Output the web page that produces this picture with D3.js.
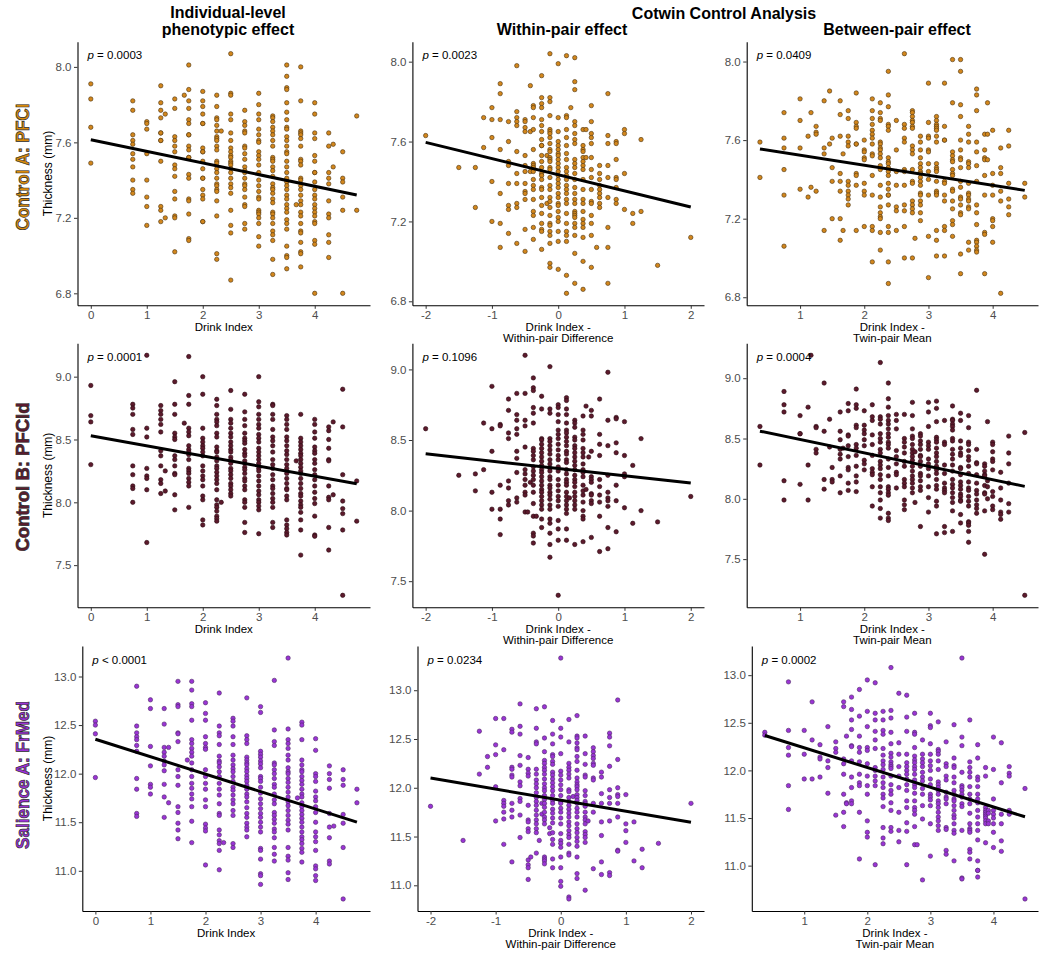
<!DOCTYPE html>
<html><head><meta charset="utf-8">
<script src="https://cdn.jsdelivr.net/npm/d3@7"></script>
<style>body{margin:0;background:#fff}</style>
</head><body>
<script>
// ---------------- DATA ----------------
// each entry: [x, [thickness values at that x]]
const pfclIndiv = [
 [0,[7.91,7.83,7.68,7.49]],
 [0.75,[7.82,7.77,7.64,7.61,7.59,7.54,7.51,7.47,7.40,7.35,7.33]],
 [1,[7.71,7.70,7.67,7.54,7.40,7.31,7.26,7.16]],
 [1.25,[7.90,7.81,7.77,7.73,7.65,7.65,7.61,7.61,7.50,7.26,7.24,7.18]],
 [1.33,[7.75,7.20]],
 [1.5,[7.83,7.78,7.63,7.61,7.58,7.55,7.48,7.46,7.42,7.34,7.30,7.21,7.20,7.02]],
 [1.67,[7.85]],
 [1.75,[8.01,7.88,7.82,7.78,7.72,7.70,7.64,7.64,7.58,7.56,7.52,7.52,7.43,7.41,7.30,7.29,7.22,7.09,7.08]],
 [2,[7.87,7.82,7.79,7.75,7.70,7.70,7.57,7.55,7.55,7.50,7.46,7.41,7.41,7.35,7.32,7.30,7.18,7.18]],
 [2.25,[7.85,7.79,7.73,7.72,7.69,7.66,7.63,7.62,7.61,7.58,7.56,7.50,7.49,7.46,7.44,7.41,7.38,7.37,7.35,7.34,7.29,7.21,7.01,6.98]],
 [2.33,[7.66]],
 [2.5,[8.07,7.86,7.85,7.75,7.72,7.65,7.61,7.57,7.55,7.53,7.52,7.50,7.49,7.48,7.46,7.44,7.41,7.38,7.36,7.33,7.24,7.16,7.12,6.87]],
 [2.75,[7.77,7.71,7.69,7.66,7.65,7.58,7.57,7.54,7.51,7.47,7.45,7.44,7.41,7.38,7.37,7.35,7.31,7.27,7.26,7.17,7.14]],
 [3,[7.86,7.80,7.75,7.72,7.67,7.64,7.61,7.60,7.55,7.53,7.51,7.48,7.44,7.40,7.37,7.34,7.31,7.30,7.24,7.23,7.22,7.20,7.17,7.10,7.05]],
 [3.25,[7.74,7.73,7.71,7.68,7.66,7.64,7.61,7.58,7.52,7.51,7.50,7.47,7.45,7.42,7.38,7.36,7.35,7.33,7.30,7.28,7.23,7.22,7.20,7.17,7.13,7.11,7.08,6.98,6.90]],
 [3.5,[8.01,7.95,7.89,7.88,7.81,7.76,7.72,7.68,7.67,7.63,7.61,7.58,7.55,7.54,7.50,7.47,7.44,7.41,7.39,7.37,7.35,7.32,7.30,7.27,7.25,7.23,7.19,7.17,7.14,7.05,7.00,6.99,6.93]],
 [3.67,[7.27]],
 [3.75,[8.00,7.82,7.66,7.65,7.64,7.62,7.58,7.51,7.50,7.48,7.41,7.40,7.37,7.35,7.32,7.29,7.27,7.23,7.21,7.17,7.13,7.12,7.07,7.02,7.01,6.94]],
 [4,[7.81,7.75,7.65,7.62,7.53,7.50,7.44,7.44,7.39,7.35,7.32,7.30,7.27,7.25,7.23,7.21,7.18,7.17,7.08,7.06,6.80]],
 [4.25,[7.65,7.58,7.44,7.41,7.38,7.29,7.22,7.20,7.11,7.07,6.99]],
 [4.33,[7.59,7.47]],
 [4.5,[7.55,7.41,7.39,7.31,7.24,6.80]],
 [4.75,[7.74,7.24]]
];
const pfclWithin = [
 [-2,[7.63]],[-1.5,[7.47]],[-1.25,[7.47,7.27]],[-1.125,[7.72,7.57]],
 [-1,[7.77,7.71,7.62,7.40,7.20]],
 [-0.875,[7.89,7.84,7.71,7.56,7.34,7.19,7.07]],
 [-0.75,[7.70,7.60,7.50,7.48,7.39,7.28,7.26,7.14]],
 [-0.625,[7.98,7.75,7.72,7.70,7.68,7.55,7.44,7.39,7.29,7.27,7.09]],
 [-0.5,[7.71,7.70,7.67,7.65,7.53,7.48,7.45,7.39,7.35,7.34,7.31,7.16,7.05]],
 [-0.42,[7.88,7.65,7.45]],
 [-0.375,[7.78,7.77,7.72,7.66,7.56,7.49,7.48,7.47,7.45,7.41,7.38,7.36,7.31,7.25,7.23,7.17,7.11]],
 [-0.25,[7.93,7.82,7.79,7.77,7.71,7.68,7.65,7.61,7.58,7.58,7.53,7.50,7.47,7.44,7.43,7.41,7.37,7.36,7.32,7.28,7.24,7.19,7.16,7.15,7.06]],
 [-0.17,[7.53,7.29]],
 [-0.125,[8.04,7.82,7.80,7.73,7.66,7.65,7.64,7.62,7.59,7.56,7.55,7.52,7.51,7.50,7.47,7.46,7.42,7.38,7.36,7.32,7.30,7.27,7.23,7.19,7.18,7.15,7.13,7.09,6.99,6.97]],
 [0,[7.99,7.72,7.65,7.60,7.58,7.56,7.54,7.53,7.51,7.49,7.47,7.45,7.43,7.41,7.39,7.37,7.34,7.32,7.29,7.28,7.25,7.22,7.20,7.15,7.10,6.96]],
 [0.125,[8.03,7.73,7.72,7.66,7.62,7.58,7.54,7.51,7.47,7.45,7.43,7.41,7.38,7.36,7.34,7.31,7.29,7.24,7.19,7.15,7.13,7.10,6.93,6.84]],
 [0.19,[7.77]],
 [0.25,[8.02,7.90,7.86,7.70,7.68,7.64,7.61,7.59,7.51,7.49,7.47,7.44,7.41,7.37,7.34,7.31,7.29,7.25,7.24,7.23,7.22,7.19,7.17,7.13,7.04,6.89]],
 [0.375,[7.66,7.58,7.56,7.55,7.52,7.50,7.48,7.46,7.41,7.36,7.31,7.29,7.25,7.21,7.19,7.17,7.12,7.00,6.86]],
 [0.42,[7.66,7.52]],
 [0.5,[7.78,7.70,7.64,7.62,7.59,7.52,7.46,7.42,7.36,7.30,7.29,7.23,7.19,7.13,6.97]],
 [0.58,[7.07]],
 [0.625,[7.48,7.44,7.41,7.38,7.36,7.34,7.32,7.29,7.27]],
 [0.75,[7.84,7.63,7.59,7.48,7.42,7.32,7.17,7.07,6.89]],
 [0.875,[7.60,7.59,7.51,7.42,7.41,7.37,7.31,7.29]],
 [1,[7.66,7.64,7.44,7.26]],[1.125,[7.24,7.19]],[1.25,[7.61,7.25]],[1.5,[6.98]],[2,[7.12]]
];
const pfclBetween = [
 [0.375,[7.59,7.41]],
 [0.75,[7.74,7.61,7.56,7.45,7.32,7.06]],
 [1,[7.81,7.70,7.56,7.35]],
 [1.125,[7.62,7.31]],
 [1.17,[7.74,7.36]],
 [1.25,[7.67,7.64,7.63,7.34]],
 [1.375,[7.80,7.56,7.53,7.14]],
 [1.46,[7.85,7.58]],
 [1.5,[7.61,7.46,7.39,7.20]],
 [1.625,[7.80,7.73,7.62,7.43,7.39,7.34,7.20,7.09]],
 [1.67,[7.53,7.14]],
 [1.75,[7.75,7.71,7.62,7.59,7.57,7.39,7.37,7.34,7.32,7.30,7.27]],
 [1.875,[7.84,7.69,7.67,7.66,7.58,7.58,7.43,7.42,7.37,7.14]],
 [2,[7.60,7.55,7.54,7.51,7.50,7.38,7.34,7.32,7.16]],
 [2.125,[7.81,7.75,7.71,7.68,7.65,7.63,7.61,7.58,7.53,7.52,7.42,7.32,7.16,7.14,6.98]],
 [2.25,[7.79,7.74,7.71,7.70,7.59,7.58,7.56,7.55,7.53,7.51,7.47,7.45,7.37,7.31,7.26,7.23,7.21,7.20,7.13,7.04]],
 [2.375,[7.95,7.83,7.77,7.68,7.67,7.65,7.51,7.49,7.48,7.46,7.44,7.42,7.38,7.35,7.32,7.32,7.27,7.16,7.13,6.98,6.87]],
 [2.5,[7.70,7.55,7.44,7.37,7.26,7.24,7.14]],
 [2.625,[8.04,7.68,7.66,7.61,7.59,7.45,7.44,7.37,7.27,7.24,7.16,7.00]],
 [2.75,[7.75,7.74,7.72,7.70,7.69,7.67,7.66,7.57,7.55,7.53,7.45,7.39,7.38,7.29,7.27,7.25,7.23,7.00]],
 [2.79,[7.10]],
 [2.875,[7.62,7.59,7.55,7.51,7.48,7.46,7.44,7.43,7.41,7.39,7.37,7.33,7.32,7.29,7.27,7.23,7.19]],
 [3,[7.89,7.69,7.62,7.61,7.55,7.54,7.48,7.44,7.40,7.32,7.11,6.90]],
 [3.125,[7.72,7.70,7.68,7.67,7.66,7.65,7.62,7.59,7.48,7.46,7.45,7.44,7.39,7.34,7.33,7.32,7.14,7.09,7.01]],
 [3.25,[7.89,7.67,7.60,7.60,7.39,7.38,7.32,7.29,7.16,7.14,7.01]],
 [3.375,[8.01,7.79,7.54,7.52,7.50,7.49,7.45,7.43,7.42,7.35,7.34,7.29,7.25,7.19,7.17,7.11]],
 [3.5,[8.01,7.95,7.78,7.72,7.60,7.55,7.51,7.50,7.46,7.39,7.36,7.31,7.30,7.27,7.23,7.22,7.02,6.92]],
 [3.625,[7.67,7.63,7.59,7.49,7.48,7.46,7.38,7.33,7.32,7.30,7.29,7.26,7.25,7.08,7.04]],
 [3.75,[7.86,7.83,7.75,7.59,7.54,7.47,7.39,7.27,7.23,7.17,7.09,7.08,7.06,7.04,7.03]],
 [3.875,[7.63,7.55,7.51,7.50,7.42,7.32,7.13,7.12,6.92]],
 [3.92,[7.79,7.63,7.50]],
 [4,[7.65,7.43,7.37,7.32,7.20,7.19,7.16,7.08]],
 [4.125,[7.56,7.46,7.43,7.34,7.29,6.82]],
 [4.25,[7.65,7.57,7.38,7.30,7.26,7.22]],
 [4.5,[7.38,7.31]]
];
const pfcldIndiv = [
 [0,[8.93,8.69,8.64,8.30]],
 [0.75,[8.78,8.75,8.70,8.58,8.54,8.29,8.22,8.13,8.11,8.00]],
 [1,[9.17,8.59,8.52,8.27,8.21,8.19,8.10,7.68]],
 [1.25,[8.77,8.73,8.70,8.66,8.62,8.56,8.41,8.37,8.29,8.18,8.15,8.07]],
 [1.33,[8.25,8.09]],
 [1.5,[8.96,8.78,8.70,8.55,8.52,8.50,8.37,8.34,8.29,8.23,8.22,8.06,7.94]],
 [1.67,[8.63]],
 [1.75,[9.16,8.85,8.78,8.59,8.56,8.53,8.45,8.42,8.40,8.38,8.34,8.27,8.25,8.23,8.19,8.16,8.13,7.96]],
 [2,[9.00,8.86,8.59,8.51,8.48,8.45,8.43,8.40,8.37,8.29,8.25,8.21,8.18,8.13,8.05,8.02,7.86,7.82]],
 [2.25,[8.82,8.77,8.70,8.66,8.64,8.61,8.55,8.52,8.44,8.41,8.40,8.36,8.33,8.29,8.27,8.24,8.21,8.18,8.15,8.10,8.02,7.98,7.96,7.93,7.89,7.87,7.85]],
 [2.33,[8.00]],
 [2.5,[8.89,8.74,8.66,8.63,8.59,8.55,8.52,8.48,8.45,8.42,8.40,8.36,8.34,8.31,8.27,8.25,8.22,8.19,8.15,8.13,8.10,8.07,8.05]],
 [2.75,[8.86,8.72,8.66,8.61,8.55,8.51,8.49,8.47,8.42,8.39,8.37,8.33,8.31,8.28,8.26,8.23,8.19,8.17,8.13,8.10,8.02,8.00,7.96,7.84,7.76]],
 [3,[9.00,8.80,8.76,8.70,8.66,8.62,8.59,8.54,8.51,8.48,8.43,8.40,8.37,8.34,8.31,8.27,8.25,8.21,8.17,8.13,8.09,8.06,8.02,8.00,7.97,7.94,7.75]],
 [3.25,[8.78,8.77,8.70,8.66,8.58,8.52,8.49,8.45,8.40,8.34,8.30,8.27,8.22,8.18,8.13,8.11,8.07,8.03,8.00,7.96,7.84,7.80]],
 [3.5,[8.69,8.66,8.62,8.58,8.52,8.49,8.45,8.41,8.38,8.34,8.30,8.27,8.23,8.19,8.15,8.11,8.10,8.05,8.02,7.86,7.82,7.79,7.76,7.74]],
 [3.67,[8.33]],
 [3.75,[8.70,8.51,8.48,8.45,8.42,8.39,8.37,8.34,8.31,8.28,8.25,8.23,8.19,8.15,8.11,8.07,8.05,8.01,7.98,7.96,7.92,7.86,7.78,7.58]],
 [4,[8.66,8.62,8.56,8.51,8.44,8.41,8.39,8.34,8.31,8.26,8.22,8.18,8.13,8.08,8.03,7.99,7.89,7.74,7.73]],
 [4.25,[8.60,8.57,8.50,8.43,8.34,8.33,8.13,8.04,8.02,7.80,7.62]],
 [4.33,[8.64,8.06]],
 [4.5,[8.90,8.60,8.22,8.01,7.95,7.91,7.78,7.26]],
 [4.75,[8.17,7.85]]
];
const pfcldWithin = [
 [-2,[8.58]],[-1.5,[8.25]],[-1.25,[8.26,8.14]],[-1.125,[8.62,8.29]],
 [-1,[8.88,8.58,8.42,8.13,8.01]],
 [-0.875,[8.61,8.60,8.18,8.01,7.94,7.83]],
 [-0.75,[8.79,8.71,8.55,8.51,8.21,8.16,8.07,8.04]],
 [-0.625,[8.83,8.68,8.64,8.58,8.54,8.42,8.37,8.27,8.09,8.06]],
 [-0.5,[9.10,8.83,8.64,8.60,8.45,8.29,8.26,8.22,8.18,8.13,8.11,7.99]],
 [-0.46,[7.99]],[-0.42,[8.20]],
 [-0.375,[8.94,8.87,8.85,8.73,8.69,8.62,8.44,8.42,8.39,8.36,8.31,8.28,8.25,8.22,8.18,8.13,8.05,7.96,7.84,7.82,7.77]],
 [-0.33,[7.96]],
 [-0.25,[8.81,8.72,8.51,8.50,8.47,8.44,8.41,8.38,8.35,8.32,8.29,8.27,8.24,8.21,8.18,8.15,8.13,8.10,8.07,8.04,8.01,7.94,7.88]],
 [-0.125,[9.02,8.72,8.69,8.51,8.49,8.46,8.43,8.40,8.36,8.33,8.30,8.28,8.24,8.22,8.18,8.16,8.13,8.11,8.08,8.04,8.01,7.94,7.91,7.84,7.76,7.67]],
 [0,[8.75,8.73,8.68,8.63,8.57,8.54,8.51,8.47,8.43,8.39,8.36,8.31,8.28,8.22,8.18,8.14,8.10,8.07,8.03,7.93,7.87,7.79,7.40]],
 [0.125,[8.80,8.78,8.72,8.68,8.62,8.57,8.55,8.52,8.49,8.46,8.42,8.40,8.36,8.34,8.29,8.26,8.22,8.20,8.18,8.13,8.10,8.07,8.04,8.01,7.98,7.87,7.79]],
 [0.17,[8.09]],
 [0.25,[8.64,8.62,8.59,8.52,8.50,8.46,8.44,8.41,8.38,8.35,8.32,8.29,8.25,8.22,8.20,8.17,8.13,8.10,8.07,8.04,8.01,7.76]],
 [0.375,[8.67,8.57,8.54,8.50,8.44,8.41,8.38,8.33,8.29,8.27,8.24,8.18,8.14,8.11,8.06,8.00,7.96,7.94,7.78]],
 [0.42,[8.74,8.15]],[0.46,[8.38]],
 [0.5,[8.71,8.67,8.42,8.24,8.22,8.20,8.12,8.11,8.07,8.05,7.81]],
 [0.625,[8.79,8.54,8.47,8.39,8.22,8.17,8.11,8.06,7.96,7.71]],
 [0.75,[8.98,8.64,8.46,8.25,8.13,8.09,8.07,8.03,7.88,7.73]],
 [0.875,[8.66,8.65,8.48,8.41,8.18,8.07,7.85]],
 [1,[8.63,8.39,8.26,8.24,8.02]],[1.125,[8.32,7.91]],[1.25,[8.51,8.00]],[1.5,[7.92]],[2,[8.10]]
];
const pfcldBetween = [
 [0.375,[8.60,8.28]],
 [0.75,[8.89,8.78,8.72,8.15,7.99]],
 [1,[8.69,8.54,8.54,8.12]],
 [1.125,[8.76,8.28,7.99]],
 [1.17,[9.19]],
 [1.25,[8.60,8.59,8.41,8.38]],
 [1.375,[8.96,8.56,8.16,8.08]],
 [1.46,[8.66,8.43]],
 [1.5,[8.26,8.16,8.14]],
 [1.625,[8.72,8.56,8.49,8.41,8.37,8.33,8.19,8.05]],
 [1.67,[8.42]],
 [1.75,[8.79,8.73,8.53,8.52,8.44,8.35,8.26,8.24,8.13,8.07]],
 [1.875,[8.91,8.78,8.75,8.61,8.59,8.45,8.42,8.36,8.27,8.19,8.14,8.06]],
 [2,[8.73,8.61,8.57,8.54,8.49,8.44,8.32,8.29,8.24]],
 [2.125,[8.78,8.68,8.65,8.53,8.45,8.36,8.25,8.22,8.20,8.10,7.94]],
 [2.25,[9.13,8.68,8.66,8.62,8.54,8.50,8.47,8.41,8.38,8.31,8.28,8.25,8.20,8.16,8.10,8.05,7.99,7.92,7.84]],
 [2.375,[8.96,8.83,8.76,8.69,8.65,8.62,8.58,8.54,8.51,8.47,8.45,8.42,8.33,8.26,8.19,8.10,8.08,8.05,8.03,7.88,7.84,7.82]],
 [2.5,[8.70,8.65,8.58,8.40,8.35,8.29,8.22,8.20,8.09]],
 [2.625,[8.70,8.50,8.47,8.43,8.38,8.31,8.27,8.16,8.13,8.10,7.99,7.95,7.91]],
 [2.75,[8.80,8.69,8.58,8.52,8.50,8.45,8.41,8.38,8.35,8.32,8.27,8.23,8.19,8.16,8.13,8.09,8.05]],
 [2.79,[8.39,7.97]],
 [2.875,[8.54,8.52,8.48,8.45,8.41,8.36,8.35,8.31,8.27,8.21,8.19,8.15,8.10,8.07,7.77]],
 [3,[8.80,8.72,8.60,8.47,8.44,8.41,8.33,8.29,8.25,8.19,8.10,8.01,7.89]],
 [3.125,[8.81,8.75,8.64,8.51,8.49,8.47,8.42,8.38,8.35,8.31,8.27,8.24,8.21,8.16,8.11,8.08,7.98,7.94,7.71]],
 [3.25,[8.65,8.47,8.45,8.28,8.21,8.13,8.09,8.07,8.05,7.77,7.72]],
 [3.375,[8.77,8.66,8.65,8.62,8.60,8.57,8.50,8.48,8.41,8.37,8.33,8.28,8.23,8.16,8.12,8.09,8.05,8.01,7.97,7.90,7.73]],
 [3.5,[8.71,8.65,8.48,8.42,8.38,8.36,8.26,8.25,8.20,8.14,8.11,8.08,8.04,8.02,7.99,7.98,7.87,7.80]],
 [3.625,[8.69,8.59,8.47,8.45,8.40,8.35,8.32,8.27,8.21,8.14,8.09,8.07,8.02,7.98,7.94,7.81,7.80,7.78,7.73,7.64]],
 [3.75,[8.90,8.41,8.30,8.29,8.20,8.13,8.07,8.04,7.99,7.95,7.92,7.88]],
 [3.875,[8.29,8.27,8.23,8.20,8.19,8.11,8.05,8.04,7.90,7.54]],
 [3.92,[8.64,8.15,8.10,8.00]],
 [4,[8.47,8.45,8.39,8.33,8.31,8.24,8.06,8.02,7.94,7.91]],
 [4.125,[8.22,8.09,7.99,7.89,7.87,7.83]],
 [4.25,[8.52,8.38,8.29,8.13,7.96,7.89]],
 [4.5,[8.55,7.20]]
];
const frmedIndiv = [
 [0,[12.54,12.50,12.41,11.96]],
 [0.75,[12.90,12.49,12.42,12.38,12.35,12.29,12.23,11.95,11.84,11.59,11.56]],
 [1,[12.76,12.67,12.28,12.08,11.89,11.86,11.79]],
 [1.25,[12.67,12.51,12.27,12.22,12.18,12.13,12.09,12.03,11.89,11.76,11.55]],
 [1.33,[12.27,11.70]],
 [1.5,[12.95,12.71,12.69,12.42,12.41,12.33,12.04,11.97,11.88,11.66,11.60,11.49,11.42,11.33]],
 [1.67,[12.14]],
 [1.75,[12.95,12.86,12.72,12.69,12.55,12.35,12.31,12.26,12.22,12.18,12.11,12.04,11.97,11.90,11.85,11.79,11.74,11.66,11.51,11.29]],
 [2,[12.73,12.62,12.55,12.38,12.31,12.27,12.25,12.04,11.97,11.90,11.84,11.73,11.66,11.48,11.44,11.41,11.06]],
 [2.25,[12.83,12.49,12.42,12.39,12.30,12.18,12.13,12.11,12.07,12.02,11.97,11.90,11.84,11.78,11.69,11.59,11.57,11.42,11.37,11.31,11.28,11.21,11.01]],
 [2.33,[11.29]],
 [2.5,[12.57,12.54,12.49,12.38,12.30,12.19,12.14,12.09,12.05,12.02,11.97,11.92,11.86,11.83,11.78,11.73,11.69,11.62,11.57,11.28,11.24]],
 [2.75,[12.78,12.39,12.35,12.31,12.17,12.14,12.11,12.09,12.05,12.02,11.98,11.95,11.92,11.88,11.84,11.79,11.76,11.71,11.65,11.59,11.55,11.49,11.45,11.42,11.35]],
 [3,[12.69,12.63,12.23,12.20,12.17,12.13,12.10,12.06,11.97,11.95,11.92,11.86,11.80,11.74,11.69,11.64,11.59,11.55,11.50,11.45,11.40,11.23,11.21,11.12,10.97,10.95,10.86]],
 [3.25,[12.96,12.45,12.33,12.29,12.11,12.09,12.04,12.00,11.95,11.89,11.86,11.79,11.73,11.69,11.60,11.57,11.53,11.49,11.43,11.40,11.34,11.24,11.17,11.10]],
 [3.5,[13.19,12.46,12.35,12.31,12.26,12.19,12.14,12.06,12.02,12.00,11.95,11.91,11.86,11.81,11.76,11.71,11.67,11.62,11.57,11.52,11.48,11.42,11.24,11.15,11.11,10.98,10.91]],
 [3.67,[11.75]],
 [3.75,[12.53,12.50,12.35,12.14,12.09,12.04,12.02,11.97,11.93,11.89,11.84,11.79,11.76,11.70,11.66,11.62,11.58,11.54,11.50,11.45,11.40,11.35,11.32,11.28,11.23,11.19,11.09]],
 [4,[12.36,12.24,12.00,11.97,11.92,11.82,11.76,11.72,11.66,11.60,11.50,11.40,11.35,11.30,11.21,11.05,11.02,10.95,10.90]],
 [4.25,[12.08,12.00,11.94,11.85,11.59,11.45,11.34,11.10,11.07]],
 [4.33,[11.46]],
 [4.5,[12.04,11.94,11.88,11.58,11.49,11.24,10.71]],
 [4.75,[11.84,11.70]]
];
const frmedWithin = [
 [-2,[11.81]],[-1.5,[11.46]],[-1.25,[12.58,12.14]],[-1.125,[12.32,12.21]],
 [-1,[12.71,12.44,12.34,12.01,11.66]],
 [-0.875,[12.71,12.39,11.87,11.84,11.81,11.75,11.68,11.42]],
 [-0.75,[12.60,12.57,12.21,12.19,12.13,12.11,11.84,11.77,11.70,11.24]],
 [-0.625,[12.86,12.63,12.55,12.33,12.23,12.06,12.02,11.89,11.86,11.72,11.49]],
 [-0.5,[12.31,12.19,12.15,12.12,11.82,11.67,11.65,11.58,11.55,11.26,11.21,11.18,11.06]],
 [-0.46,[11.29]],
 [-0.375,[12.81,12.61,12.47,12.45,12.19,12.14,12.08,12.04,12.00,11.95,11.90,11.86,11.82,11.77,11.72,11.67,11.63,11.58,11.54,11.33]],
 [-0.33,[11.46]],[-0.29,[11.84,11.73]],
 [-0.25,[12.83,12.51,12.37,12.28,12.25,12.21,12.18,12.14,12.09,12.04,12.00,11.97,11.92,11.88,11.84,11.80,11.75,11.70,11.67,11.63,11.29,11.27,11.25,11.22]],
 [-0.17,[11.59,11.53]],
 [-0.125,[12.69,12.55,12.45,12.34,12.32,12.27,12.24,12.16,12.13,12.09,12.05,12.01,11.97,11.92,11.87,11.84,11.78,11.74,11.69,11.64,11.54,11.47,11.42,11.27,11.18]],
 [0,[13.33,12.61,12.52,12.35,12.17,12.13,12.08,12.03,11.98,11.92,11.86,11.84,11.79,11.75,11.69,11.63,11.53,11.46,11.43,11.39,11.29,11.18,11.04,10.99]],
 [0.125,[12.70,12.47,12.25,12.21,12.18,12.14,12.10,11.98,11.96,11.90,11.86,11.82,11.78,11.74,11.70,11.65,11.61,11.56,11.52,11.49,11.42,11.33,11.31,10.88,10.86]],
 [0.19,[11.91]],
 [0.25,[12.74,12.53,12.51,12.46,12.41,12.39,12.32,12.27,12.18,12.10,12.06,12.03,12.01,11.98,11.93,11.90,11.87,11.84,11.79,11.75,11.70,11.63,11.58,11.54,11.49,11.45,11.40,11.29,11.12,11.07]],
 [0.375,[12.53,12.35,12.24,12.13,12.11,11.97,11.92,11.86,11.84,11.81,11.75,11.70,11.67,11.63,11.55,11.52,11.49,11.44,10.95]],
 [0.42,[11.66]],
 [0.5,[12.41,12.37,12.33,12.30,12.25,12.23,12.10,12.08,11.84,11.75,11.17]],
 [0.625,[12.16,12.11,11.94,11.84,11.65,11.51,11.24,11.11]],
 [0.75,[12.56,12.52,12.43,12.22,11.98,11.90,11.84,11.66,11.13,11.10]],
 [0.875,[12.90,12.29,12.00,11.93,11.91,11.84,11.70,11.36,11.35]],
 [1,[11.93,11.63,11.56,11.44]],[1.125,[11.65,11.25]],[1.25,[11.37,11.18]],[1.5,[11.43]],[2,[11.84]]
];
const frmedBetween = [
 [0.375,[12.40,12.37]],
 [0.75,[12.93,12.42,12.24,12.16,11.84,11.59]],
 [1,[12.42,12.17,11.91]],
 [1.125,[12.72,12.32,11.91]],
 [1.25,[12.27,12.14,12.12,11.93]],
 [1.375,[12.46,12.10,12.03,11.76]],
 [1.5,[12.30,12.23,12.19,11.53]],
 [1.625,[12.72,12.67,12.12,12.07,11.96,11.75,11.56,11.41]],
 [1.67,[12.36,11.66,11.65]],
 [1.75,[12.77,12.64,12.53,12.43,12.26,12.25,12.10,11.93,11.82,11.68,11.65]],
 [1.875,[12.85,12.57,12.36,12.24,12.19,12.09,11.96,11.87,11.84,11.56,11.07]],
 [2,[12.95,12.62,12.46,12.24,12.21,12.07,11.94,11.84,11.75,11.47,11.35,11.30]],
 [2.125,[12.92,12.60,12.53,12.41,12.32,12.23,12.03,12.00,11.94,11.89,11.84,11.01]],
 [2.25,[12.62,12.53,12.42,12.38,12.23,12.16,12.10,12.06,12.01,11.93,11.87,11.82,11.75,11.71,11.62,11.40,11.29,11.23]],
 [2.375,[13.08,12.63,12.55,12.40,12.28,12.18,12.14,12.09,12.06,12.04,12.02,11.94,11.85,11.79,11.75,11.66,11.58,11.40,11.36]],
 [2.5,[12.81,12.29,12.17,12.04,11.94,11.82,11.56,11.37,11.25]],
 [2.625,[12.79,12.56,12.41,12.17,12.08,12.04,12.00,11.96,11.91,11.85,11.79,11.68,11.61,11.45,11.36,11.01]],
 [2.75,[12.60,12.40,12.38,12.24,12.15,12.11,12.08,12.04,12.01,11.96,11.90,11.85,11.82,11.76,11.68,11.61,11.58,11.54,11.41,11.22]],
 [2.79,[11.22]],
 [2.875,[12.32,12.17,12.12,12.08,12.04,11.98,11.93,11.89,11.81,11.75,11.63,11.49,10.85]],
 [3,[12.60,12.47,12.45,12.28,12.17,12.10,12.05,12.00,11.91,11.85,11.75,11.72,11.69,11.63,11.44,11.10]],
 [3.125,[12.51,12.22,12.20,12.17,12.10,12.01,11.88,11.85,11.82,11.79,11.75,11.68,11.65,11.61,11.56,11.51,11.47,11.42,11.37]],
 [3.25,[12.30,12.07,12.04,11.94,11.90,11.77,11.72,11.70,11.65,11.40,11.38,11.16,11.12]],
 [3.375,[12.48,12.13,12.05,12.03,11.93,11.87,11.79,11.75,11.70,11.68,11.63,11.58,11.53,11.50,11.44,11.37,11.34,11.05]],
 [3.5,[13.18,12.35,12.26,11.98,11.84,11.82,11.79,11.75,11.72,11.65,11.62,11.37,10.87,10.86]],
 [3.625,[12.53,12.09,12.03,11.98,11.93,11.83,11.75,11.70,11.65,11.55,11.44,11.39,11.37,11.35,11.17,11.14,11.07]],
 [3.75,[12.27,12.13,11.93,11.90,11.83,11.75,11.70,11.66,11.58,11.51,11.44,11.37,11.27,11.05,10.95,10.95,10.88]],
 [3.875,[12.03,11.94,11.61,11.58,11.56,11.54,11.52,11.50,11.47,11.44,11.24]],
 [3.92,[11.58,11.55,11.47,11.44]],
 [4,[12.35,12.01,11.70,11.58,11.54,11.50,11.44,11.35,11.19]],
 [4.125,[12.29,11.87,11.54,11.44,11.26,11.15]],
 [4.25,[12.04,11.97,11.94,11.58,11.54]],
 [4.5,[11.81,10.65]]
];

// fitted line: thickness at the smallest and largest x of each panel
const fitPfcl  = [[7.614,7.321],[7.596,7.272],[7.555,7.344]];
const fitPfcld = [[8.529,8.148],[8.402,8.195],[8.561,8.103]];
const fitFrmed = [[12.354,11.501],[12.100,11.646],[12.367,11.513]];

const pPfcl  = ["= 0.0003","= 0.0023","= 0.0409"];
const pPfcld = ["= 0.0001","= 0.1096","= 0.0004"];
const pFrmed = ["< 0.0001","= 0.0234","= 0.0002"];

const rowLabels = ["Control A: PFCl","Control B: PFCld","Salience A: FrMed"];
const colTitles = [["Individual-level","phenotypic effect"],["Within-pair effect"],["Between-pair effect"]];
const superTitle = "Cotwin Control Analysis";
const xTitles = [["Drink Index"],["Drink Index -","Within-pair Difference"],["Drink Index -","Twin-pair Mean"]];
const yTitle = "Thickness (mm)";
const xTicksCols = [[0,1,2,3,4],[-2,-1,0,1,2],[1,2,3,4]];
const yTicksRows = [[6.8,7.2,7.6,8.0],[7.5,8.0,8.5,9.0],[11.0,11.5,12.0,12.5,13.0]];

// ---------------- LAYOUT / STYLE ----------------
const FONT = "'Liberation Sans', Arial, Helvetica, sans-serif";
const rowY = [[41.7,305.3],[343.3,607.3],[646,911]];
const colRight = [370,704,1038];
const colLeft = [[77.5,412.4,746.7],[77.5,412.4,746.7],[82.3,417.5,751.8]];
const rowStyle = [
  {fill:"#D2861C", stroke:"#4a3210", label:"#D98B0C", labelLen:127},
  {fill:"#5C1A2C", stroke:"#2c0a13", label:"#5C1A2E", labelLen:149},
  {fill:"#9A34D4", stroke:"#4e2a66", label:"#9B32D6", labelLen:148}
];
const labelCY = [167, 477, 775];

const data = [[pfclIndiv,pfclWithin,pfclBetween],[pfcldIndiv,pfcldWithin,pfcldBetween],[frmedIndiv,frmedWithin,frmedBetween]];
const fits = [fitPfcl, fitPfcld, fitFrmed];
const pvals = [pPfcl, pPfcld, pFrmed];

const svg = d3.select("body").append("svg").attr("width",1050).attr("height",957)
  .style("background","#fff").style("font-family",FONT);

// titles
const tt = svg.append("g").attr("font-family",FONT).attr("font-weight","bold").attr("font-size",16).attr("text-anchor","middle").attr("fill","#000");
tt.append("text").attr("x",228).attr("y",18).text(colTitles[0][0]);
tt.append("text").attr("x",228).attr("y",35).text(colTitles[0][1]);
tt.append("text").attr("x",724).attr("y",19).text(superTitle);
tt.append("text").attr("x",562).attr("y",35).text(colTitles[1][0]);
tt.append("text").attr("x",897).attr("y",35).text(colTitles[2][0]);

for (let r=0;r<3;r++){
  const [top,bottom] = rowY[r];
  const st = rowStyle[r];
  // row label
  svg.append("text")
    .attr("transform",`translate(22,${labelCY[r]}) rotate(-90)`)
    .attr("text-anchor","middle").attr("dy","0.36em")
    .attr("font-family",FONT).attr("font-weight","bold").attr("font-size",19)
    .attr("textLength",st.labelLen).attr("lengthAdjust","spacingAndGlyphs")
    .attr("fill",st.label).attr("stroke","#2a2a2a").attr("stroke-width",0.7)
    .text(rowLabels[r]);
  // y title
  svg.append("text")
    .attr("transform",`translate(48,${(top+bottom)/2}) rotate(-90)`)
    .attr("text-anchor","middle").attr("dy","0.35em")
    .attr("font-size",12).attr("fill","#000").text(yTitle);

  for (let c=0;c<3;c++){
    const left = colLeft[r][c], right = colRight[c];
    const pts = data[r][c].flatMap(([x,ys]) => ys.map(y => ({x,y})));
    const xe = d3.extent(pts,d=>d.x), ye = d3.extent(pts,d=>d.y);
    const xp = (xe[1]-xe[0])*0.05, yp = (ye[1]-ye[0])*0.05;
    const x = d3.scaleLinear().domain([xe[0]-xp, xe[1]+xp]).range([left,right]);
    const y = d3.scaleLinear().domain([ye[0]-yp, ye[1]+yp]).range([bottom,top]);
    const g = svg.append("g");

    // points
    g.append("g").selectAll("circle").data(pts).join("circle")
      .attr("cx",d=>x(d.x)).attr("cy",d=>y(d.y)).attr("r",2.2)
      .attr("fill",st.fill).attr("stroke",st.stroke).attr("stroke-width",0.6);

    // fit line
    const f = fits[r][c];
    g.append("path")
      .datum([{x:xe[0],y:f[0]},{x:xe[1],y:f[1]}])
      .attr("d",d3.line().x(d=>x(d.x)).y(d=>y(d.y)))
      .attr("stroke","#000").attr("stroke-width",3).attr("fill","none");

    // axes
    const ax = g.append("g").attr("transform",`translate(0,${bottom})`)
      .call(d3.axisBottom(x).tickValues(xTicksCols[c]).tickSize(3.5).tickPadding(2.5).tickSizeOuter(0).tickFormat(d=>String(d)));
    const ay = g.append("g").attr("transform",`translate(${left},0)`)
      .call(d3.axisLeft(y).tickValues(yTicksRows[r]).tickSize(3.5).tickPadding(2.5).tickSizeOuter(0).tickFormat(d3.format(".1f")));
    [ax,ay].forEach(a=>{
      a.attr("font-family",FONT).attr("font-size",11.5);
      a.select(".domain").attr("stroke","#000").attr("stroke-width",1.1);
      a.selectAll(".tick line").attr("stroke","#333").attr("stroke-width",1);
      a.selectAll(".tick text").attr("fill","#4d4d4d");
    });
    // x title
    xTitles[c].forEach((t,i)=>{
      g.append("text").attr("x",(left+right)/2).attr("y",bottom+26+i*11)
        .attr("text-anchor","middle").attr("font-size",11.5).attr("fill","#000").text(t);
    });
    // p value
    const pt = g.append("text").attr("x",left+10).attr("y",top+17.5)
      .attr("font-size",11.5).attr("fill","#000");
    pt.append("tspan").attr("font-style","italic").text("p");
    pt.append("tspan").text(" " + pvals[r][c]);
  }
}
</script>
</body></html>
